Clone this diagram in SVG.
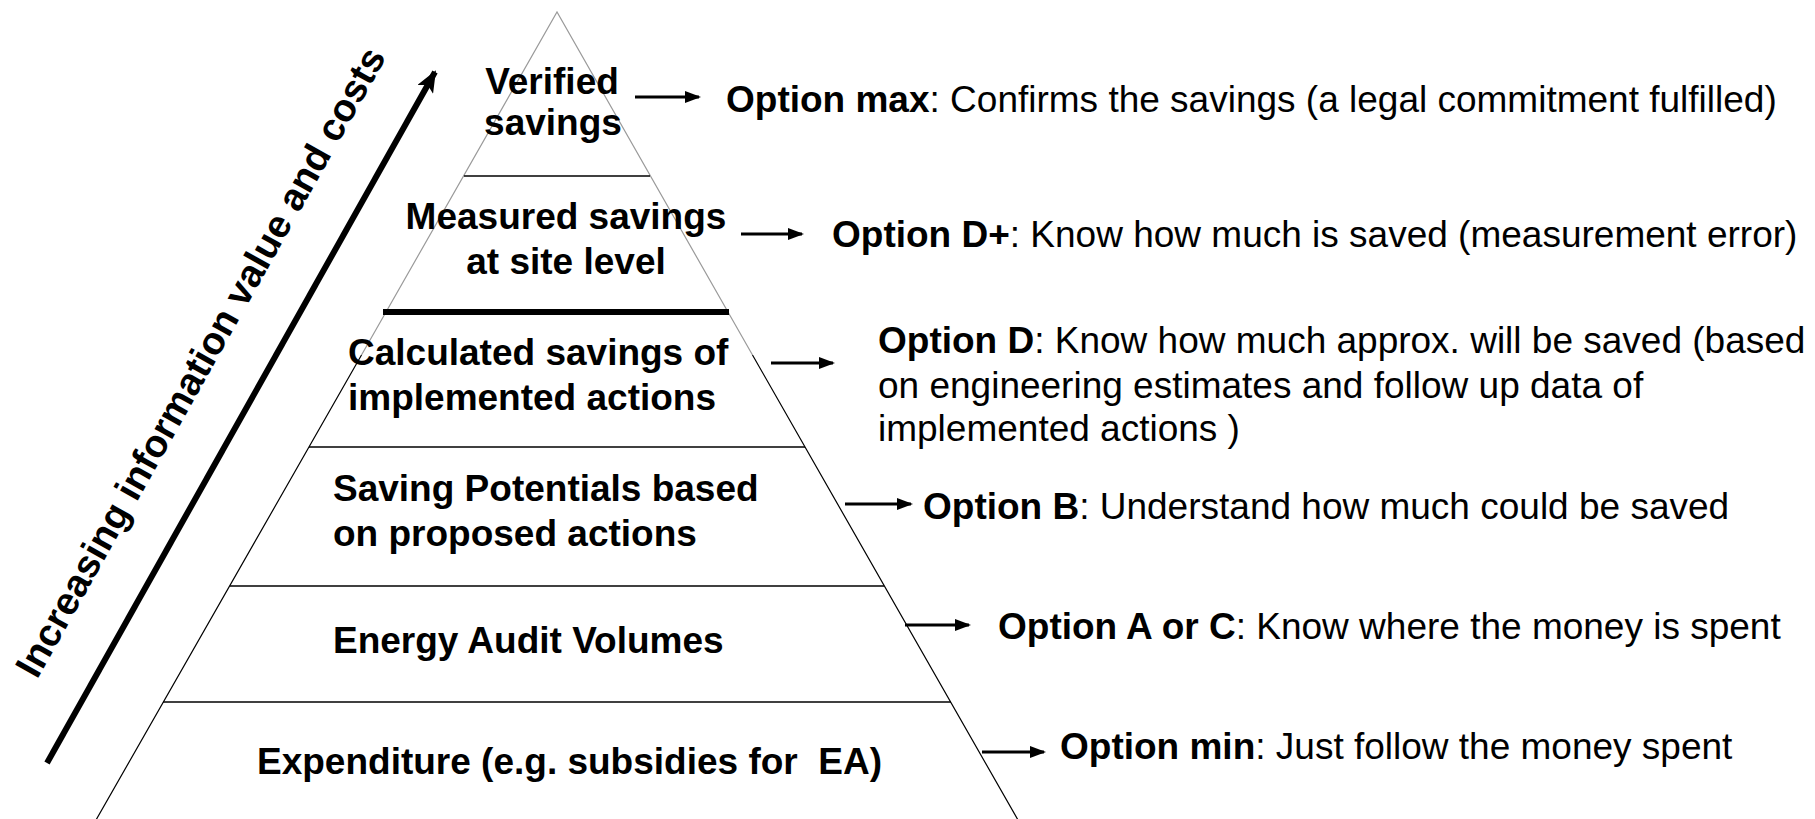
<svg xmlns="http://www.w3.org/2000/svg" width="1815" height="819" viewBox="0 0 1815 819">
<style>
.lbl{font-family:"Liberation Sans",Arial,sans-serif;font-size:37px;font-weight:bold;fill:#000}
.axis{font-family:"Liberation Sans",Arial,sans-serif;font-size:38.5px;font-weight:bold;fill:#000}
.opt{font-family:"Liberation Sans",Arial,sans-serif;font-size:37px;fill:#000}
.opt tspan.b{font-weight:bold}
.side{stroke:#000;stroke-width:1.2;fill:none}
.sideg{stroke:#9a9a9a;stroke-width:1.2;fill:none}
.tier{stroke:#000;stroke-width:1.5;fill:none}
.arr{stroke:#000;stroke-width:3;fill:none;marker-end:url(#ah)}
</style>
<defs>
<marker id="ah" markerUnits="userSpaceOnUse" markerWidth="16" markerHeight="12" refX="14" refY="6" orient="auto">
<path d="M0,0 L16,6 L0,12 Z" fill="#000"/>
</marker>
<marker id="bigah" markerUnits="userSpaceOnUse" markerWidth="22" markerHeight="18" refX="20" refY="9" orient="auto">
<path d="M0,0 L22,9 L0,18 L5,9 Z" fill="#000"/>
</marker>
</defs>
<rect width="1815" height="819" fill="#fff"/>

<g id="pyramid">
<path class="sideg" d="M361.5,355 L557,12 L752.5,355"/>
<path class="side" d="M361.5,355 L96,820 M752.5,355 L1018,820"/>
</g>

<g id="tier-verified">
<text class="lbl" x="552" y="94" text-anchor="middle">Verified</text>
<text class="lbl" x="553" y="135" text-anchor="middle">savings</text>
<line class="tier" x1="464" y1="176" x2="650" y2="176"/>
</g>
<g id="tier-measured">
<text class="lbl" x="566" y="229" text-anchor="middle">Measured savings</text>
<text class="lbl" x="566" y="274" text-anchor="middle">at site level</text>
<line x1="383" y1="312" x2="729" y2="312" stroke="#000" stroke-width="6"/>
</g>
<g id="tier-calculated">
<text class="lbl" x="348" y="365">Calculated savings of</text>
<text class="lbl" x="348" y="410">implemented actions</text>
<line class="tier" x1="309" y1="447" x2="805" y2="447"/>
</g>
<g id="tier-potentials">
<text class="lbl" x="333" y="501">Saving Potentials based</text>
<text class="lbl" x="333" y="546">on proposed actions</text>
<line class="tier" x1="230" y1="586" x2="884" y2="586"/>
</g>
<g id="tier-audit">
<text class="lbl" x="333" y="653">Energy Audit Volumes</text>
<line class="tier" x1="163" y1="702" x2="951" y2="702"/>
</g>
<g id="tier-expenditure">
<text class="lbl" x="257" y="774" xml:space="preserve">Expenditure (e.g. subsidies for  EA)</text>
</g>

<g id="axis-label">
<text class="axis" transform="translate(37,680) rotate(-60.7)">Increasing information value and costs</text>
</g>

<g id="opt-max"><text class="opt" x="726" y="112"><tspan class="b">Option max</tspan>: Confirms the savings (a legal commitment fulfilled)</text></g>
<g id="opt-dplus"><text class="opt" x="832" y="247"><tspan class="b">Option D+</tspan>: Know how much is saved (measurement error)</text></g>
<g id="opt-d"><text class="opt" x="878" y="353"><tspan class="b">Option D</tspan>: Know how much approx. will be saved (based</text>
<text class="opt" x="878" y="398">on engineering estimates and follow up data of</text>
<text class="opt" x="878" y="441">implemented actions )</text></g>
<g id="opt-b"><text class="opt" x="923" y="519"><tspan class="b">Option B</tspan>: Understand how much could be saved</text></g>
<g id="opt-ac"><text class="opt" x="998" y="639"><tspan class="b">Option A or C</tspan>: Know where the money is spent</text></g>
<g id="opt-min"><text class="opt" x="1060" y="759"><tspan class="b">Option min</tspan>: Just follow the money spent</text></g>

<g id="connectors">
<line class="arr" x1="635" y1="97" x2="699" y2="97"/>
<line class="arr" x1="741" y1="234" x2="802" y2="234"/>
<line class="arr" x1="771" y1="363" x2="833" y2="363"/>
<line class="arr" x1="845" y1="504" x2="911" y2="504"/>
<line class="arr" x1="905" y1="625" x2="969" y2="625"/>
<line class="arr" x1="982" y1="752" x2="1044" y2="752"/>
<line x1="47" y1="763" x2="435" y2="72" stroke="#000" stroke-width="6" marker-end="url(#bigah)"/>
</g>
</svg>
